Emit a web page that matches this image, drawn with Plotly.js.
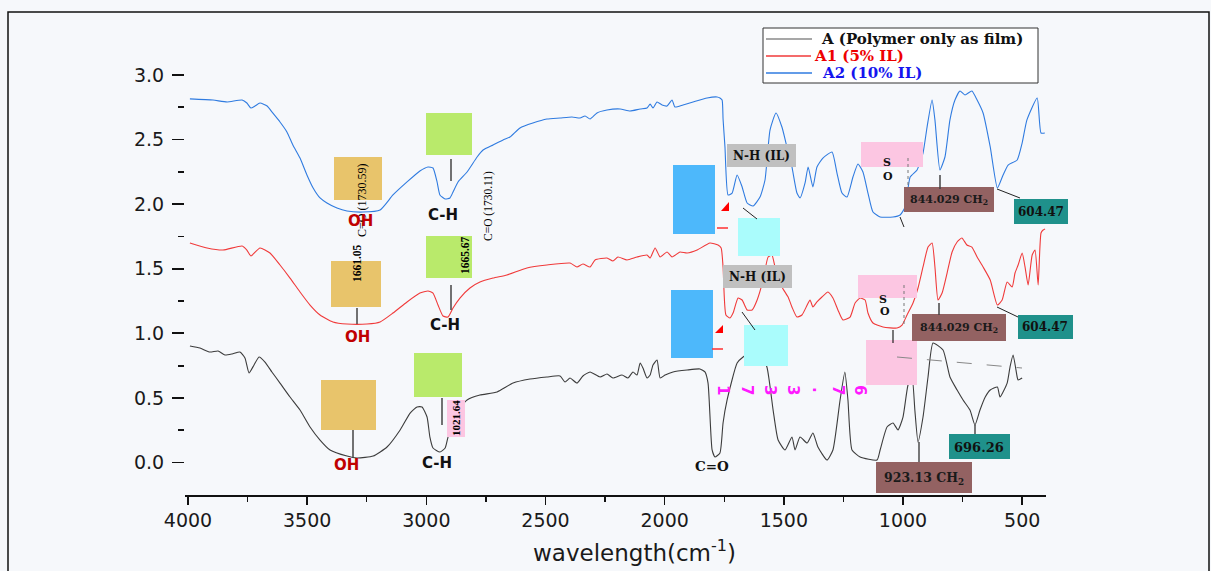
<!DOCTYPE html>
<html><head><meta charset="utf-8">
<script src="https://cdn.plot.ly/plotly-3.0.1.min.js"></script>
<style>html,body{margin:0;padding:0;background:#f6f8fb;}#chart{width:1211px;height:571px;}</style>
</head><body><div id="chart"></div>
<script>
// ---- data (wavenumber cm-1, absorbance) ----
const wnA = [3992,3950,3908,3874,3845,3815,3782,3761,3744,3723,3702,3677,3648,3614,3572,3530,3488,3446,3404,3333,3291,3223,3165,3110,3068,3039,3018,2997,2985,2972,2943,2921,2909,2892,2867,2829,2775,2703,2636,2565,2494,2439,2418,2397,2368,2343,2313,2271,2242,2217,2179,2154,2133,2116,2103,2091,2074,2061,2049,2032,2019,1998,1965,1906,1852,1831,1818,1801,1789,1768,1755,1738,1696,1671,1633,1600,1571,1545,1524,1495,1466,1453,1432,1402,1378,1357,1319,1294,1264,1244,1231,1214,1180,1109,1096,1067,1042,1021,1000,979,962,950,937,916,895,874,832,803,773,748,719,698,677,655,634,604,593,563,551,538,521,517,500];
const absA = [0.902,0.886,0.855,0.863,0.832,0.840,0.855,0.809,0.693,0.755,
0.817,0.778,0.701,0.615,0.507,0.406,0.275,0.174,0.097,0.050,
0.035,0.050,0.120,0.252,0.383,0.430,0.430,0.352,0.197,0.112,
0.081,0.112,0.197,0.290,0.406,0.484,0.522,0.546,0.615,0.646,
0.662,0.670,0.623,0.654,0.615,0.670,0.701,0.662,0.685,0.654,
0.677,0.654,0.701,0.677,0.770,0.731,0.654,0.677,0.755,0.793,
0.654,0.677,0.701,0.716,0.724,0.701,0.615,0.097,0.043,0.074,
0.306,0.484,0.770,0.817,0.855,0.840,0.739,0.406,0.174,0.097,
0.197,0.097,0.197,0.151,0.228,0.120,0.019,0.097,0.484,0.701,
0.484,0.097,0.043,0.019,0.097,0.275,0.306,0.252,0.352,0.600,
0.660,0.400,0.158,0.352,0.662,0.925,0.871,0.662,0.561,0.484,
0.406,0.290,0.406,0.507,0.561,0.584,0.507,0.615,0.739,0.832,
0.662,0.639,0.654];

const wnA1 = [3992,3920,3853,3773,3753,3736,3698,3656,3614,3572,3530,3488,3446,3392,3333,3249,3194,3140,3081,3027,2993,2972,2951,2930,2909,2888,2859,2817,2775,2720,2662,2578,2494,2397,2368,2343,2313,2292,2242,2217,2196,2158,2116,2074,2061,2040,2019,1990,1969,1936,1906,1864,1810,1776,1763,1755,1743,1726,1713,1692,1675,1654,1633,1612,1587,1566,1550,1537,1508,1482,1466,1445,1424,1402,1390,1378,1361,1340,1315,1294,1273,1252,1222,1201,1180,1159,1147,1126,1084,1025,1004,983,958,937,916,895,878,866,853,836,815,794,773,753,732,711,689,664,634,604,584,563,542,530,517,500,488,475,458,446,433,421,412,404];
const absA1 = [1.699,1.661,1.645,1.676,1.645,1.599,1.661,1.622,1.529,1.428,
1.320,1.219,1.142,1.088,1.072,1.072,1.088,1.157,1.243,1.312,
1.328,1.312,1.219,1.134,1.126,1.196,1.273,1.351,1.397,1.428,
1.452,1.506,1.529,1.544,1.514,1.537,1.514,1.568,1.583,1.560,
1.591,1.568,1.591,1.606,1.583,1.661,1.591,1.630,1.591,1.630,
1.622,1.645,1.699,1.684,1.661,1.514,1.142,1.119,1.157,1.273,
1.258,1.181,1.181,1.258,1.413,1.591,1.606,1.514,1.359,1.281,
1.204,1.126,1.142,1.219,1.258,1.204,1.243,1.281,1.320,1.273,
1.181,1.103,1.126,1.235,1.273,1.258,1.157,1.080,1.049,1.041,
1.064,1.142,1.235,1.351,1.514,1.668,1.699,1.514,1.258,1.312,
1.467,1.630,1.707,1.738,1.684,1.668,1.591,1.514,1.413,1.219,
1.258,1.397,1.359,1.467,1.529,1.622,1.514,1.374,1.606,1.645,
1.374,1.777,1.800,1.808];

const wnA2 = [3992,3895,3836,3773,3753,3736,3719,3698,3668,3648,3614,3585,3560,3530,3501,3475,3446,3417,3375,3333,3266,3194,3140,3081,3027,2993,2972,2955,2943,2921,2901,2888,2867,2829,2787,2762,2720,2678,2649,2607,2553,2494,2439,2389,2355,2334,2313,2284,2242,2187,2145,2103,2074,2061,2049,2032,2011,1990,1969,1957,1923,1881,1822,1780,1768,1759,1755,1747,1734,1717,1696,1675,1654,1629,1600,1579,1558,1533,1508,1487,1466,1445,1432,1411,1398,1378,1361,1336,1298,1277,1256,1235,1210,1189,1168,1147,1126,1096,1042,1012,991,970,941,916,899,878,866,845,824,803,782,761,740,711,689,664,634,604,580,559,521,500,480,437,421,405];
const absA2 = [2.815,2.806,2.791,2.806,2.783,2.744,2.760,2.783,2.760,2.714,
2.636,2.559,2.458,2.357,2.226,2.125,2.048,2.009,1.970,1.947,
1.939,1.955,2.071,2.172,2.257,2.288,2.280,2.172,2.071,2.040,
2.048,2.094,2.172,2.249,2.365,2.419,2.458,2.497,2.520,2.590,
2.628,2.659,2.667,2.675,2.667,2.683,2.659,2.706,2.729,2.737,
2.721,2.737,2.744,2.775,2.744,2.791,2.768,2.760,2.806,2.752,
2.768,2.791,2.822,2.830,2.822,2.806,2.659,2.443,2.071,2.086,
2.226,2.133,2.009,1.986,2.055,2.187,2.574,2.706,2.597,2.443,
2.288,2.086,2.048,2.164,2.288,2.133,2.288,2.357,2.404,2.241,
2.086,2.055,2.210,2.311,2.249,2.086,1.939,1.901,1.901,1.916,
1.978,2.210,2.265,2.396,2.597,2.806,2.652,2.265,2.365,2.652,
2.806,2.876,2.845,2.876,2.806,2.706,2.443,2.125,2.226,2.303,
2.342,2.474,2.652,2.822,2.551,2.551];

const seriesNames = ['A (Polymer only as film)', 'A1 (5% IL)', 'A2 (10% IL)'];
const xTickVals = [4000,3500,3000,2500,2000,1500,1000,500];
const yTickVals = [0,0.5,1,1.5,2,2.5,3];
const yMinorVals = [0.25,0.75,1.25,1.75,2.25,2.75];
const magentaLabel = '1733.76';
const xTitle = 'wavelength(cm<sup>-1</sup>)';

// ---- layout helpers (pixel layout -> paper) ----
const L=185,R=1046,T=20,B=495;
const P = px => (px-L)/(R-L);
const Q = py => (B-py)/(B-T);
const shapes=[], ann=[];
function rect(x0,y0,x1,y1,fill,line){shapes.push({type:'rect',xref:'paper',yref:'paper',x0:P(x0),x1:P(x1),y0:Q(y1),y1:Q(y0),fillcolor:fill,line:line||{width:0},layer:'above'});}
function seg(x0,y0,x1,y1,color,width,dash){shapes.push({type:'line',xref:'paper',yref:'paper',x0:P(x0),y0:Q(y0),x1:P(x1),y1:Q(y1),line:{color:color,width:width||1,dash:dash||'solid'},layer:'above'});}
function tri(pts,fill){shapes.push({type:'path',xref:'paper',yref:'paper',path:'M'+pts.map(p=>P(p[0])+','+Q(p[1])).join(' L')+' Z',fillcolor:fill,line:{width:0},layer:'above'});}
function txt(px,py,text,family,size,color,angle,xanchor){ann.push({xref:'paper',yref:'paper',x:P(px),y:Q(py),text:text,showarrow:false,xanchor:xanchor||'center',yanchor:'middle',textangle:angle||0,font:{family:family,size:size,color:color}});}

const SANS='DejaVu Sans', SERIFW='DejaVu Serif', SERIF='Liberation Serif';
const TAN='#e8c46b', GREEN='#b9ea6b', BLUEBOX='#4db8fb', CYAN='#aafcfc', GRAYB='#c0c0c0', PINK='#fcc6e2', BROWN='#936262', TEAL='#1f918b';
const cBlack='#3c3c3c', cRed='#f03a3a', cBlue='#2f7be0';

// legend
rect(763,28,1038,83,'#ffffff',{color:'#333',width:1});
seg(766,39,812,39,'#8a8a8a',1.3); seg(766,56,811,56,cRed,1.3); seg(766,73,812,73,cBlue,1.3);
txt(819,39,'<b>'+seriesNames[0]+'</b>',SERIFW,15,'#111',0,'left');
txt(812,56,'<b>'+seriesNames[1]+'</b>',SERIFW,15,'#ee0000',0,'left');
txt(820,73,'<b>'+seriesNames[2]+'</b>',SERIFW,15,'#1515ee',0,'left');

// A2 (blue) labels
rect(334,157,382,200,TAN); rect(426,113,472,155,GREEN); seg(451,159,451,181,'#444',1.5);
txt(362,201,'C=O (1730.59)',SERIF,12,'#000',-90);
txt(360,221,'<b>OH</b>',SANS,15,'#c00000');
txt(443,215,'<b>C-H</b>',SANS,15,'#111');
txt(488,206,'C=O (1730.11)',SERIF,11.5,'#000',-90);

// A1 (red) labels
rect(331,261,381,307,TAN); seg(357,308,357,324,'#444',1.5);
txt(357,263,'<b>1661.05</b>',SERIF,11.5,'#000',-90);
txt(357,337,'<b>OH</b>',SANS,15,'#c00000');
rect(426,236,472,278,GREEN); seg(451,285,451,310,'#444',1.5);
txt(465,255,'<b>1665.67</b>',SERIF,11.5,'#000',-90);
txt(445,325,'<b>C-H</b>',SANS,15,'#111');

// A (black) labels
rect(321,380,376,430,TAN); seg(353,430,353,458,'#444',1.5);
txt(346,465,'<b>OH</b>',SANS,15,'#c00000');
rect(414,353,462,397,GREEN); seg(442,398,442,425,'#444',1.5);
txt(437,463,'<b>C-H</b>',SANS,15,'#111');
rect(447,400,465,437,PINK);
txt(456,418,'<b>1021.64</b>',SERIF,11,'#000',-90);
txt(712,466,'<b>C=O</b>',SERIFW,13.5,'#111');
const magX=[723,747,770,793,818,838,860];
magentaLabel.split('').forEach((ch,i)=>txt(magX[i],390,'<b>'+ch+'</b>',SANS,15,'#ff1aff',90));

// right-hand labels
rect(673,165,715,234,BLUEBOX); rect(671,290,713,358,BLUEBOX);
tri([[729,202],[729,211],[721,211]],'#ff0000'); tri([[723,325],[723,333],[715,333]],'#ff0000');
seg(717,228,728,228,'#ff3030',1.5); seg(712,349,723,349,'#ff3030',1.5);
rect(727,144,796,167,GRAYB); txt(761,156,'<b>N-H (IL)</b>',SERIFW,12,'#111');
rect(723,265,792,288,GRAYB); txt(757,277,'<b>N-H (IL)</b>',SERIFW,12,'#111');
rect(738,218,780,256,CYAN); rect(744,325,788,366,CYAN);
seg(743,208,757,219,'#222',1); seg(742,312,755,330,'#222',1);
rect(861,142,923,167,PINK); txt(887,162,'<b>S</b>',SERIFW,11,'#111'); txt(888,176,'<b>O</b>',SERIFW,11,'#111');
rect(858,275,917,298,PINK); txt(883,299,'<b>S</b>',SERIFW,11,'#111'); txt(885,311,'<b>O</b>',SERIFW,11,'#111');
rect(866,340,917,385,PINK);
seg(908,158,908,192,'#777',1,'dot'); seg(904,285,904,325,'#777',1,'dot');
seg(900,217,904,227,'#222',1); seg(893,330,893,343,'#222',1.2);
rect(904,187,994,212,BROWN); txt(949,200,'<b>844.029 CH<sub>2</sub></b>',SERIFW,11,'#1a1a1a');
rect(912,314,1006,341,BROWN); txt(959,328,'<b>844.029 CH<sub>2</sub></b>',SERIFW,11,'#1a1a1a');
rect(876,462,972,493,BROWN); txt(924,478,'<b>923.13 CH<sub>2</sub></b>',SERIFW,12.5,'#1a1a1a');
seg(940,175,940,189,'#444',1.5); seg(939,303,939,315,'#444',1.5); seg(919,442,919,462,'#222',1.2);
rect(1014,199,1068,224,TEAL); txt(1041,212,'<b>604.47</b>',SERIFW,12,'#111');
rect(1018,315,1073,339,TEAL); txt(1045,327,'<b>604.47</b>',SERIFW,12,'#111');
rect(949,434,1010,459,TEAL); txt(979,447,'<b>696.26</b>',SERIFW,13,'#111');
seg(997,189,1020,198,'#222',1); seg(997,307,1018,317,'#222',1); seg(975,425,975,434,'#222',1.2);
seg(897,357,1022,368,'#888',1,'longdash');

// x-axis title (placed off-centre as in the reference)
txt(634,551,xTitle,SANS,23,'#1a1a1a');

// outer frame
shapes.push({type:'rect',xref:'paper',yref:'paper',x0:P(8),x1:P(1209),y0:Q(580),y1:Q(12),line:{color:'#111',width:1.5},fillcolor:'rgba(0,0,0,0)',layer:'below'});

const mk=(x,y,c,n)=>({x:x,y:y,type:'scatter',mode:'lines',name:n,line:{color:c,width:1.1,shape:'spline',smoothing:0.5},hoverinfo:'skip'});
const traces=[mk(wnA,absA,cBlack,seriesNames[0]),mk(wnA1,absA1,cRed,seriesNames[1]),mk(wnA2,absA2,cBlue,seriesNames[2])];

const layout={
  width:1211,height:571,
  margin:{l:L,r:1211-R,t:T,b:571-B,pad:0},
  paper_bgcolor:'#f6f8fb',plot_bgcolor:'rgba(0,0,0,0)',
  showlegend:false,
  xaxis:{range:[4000+(188-L)*4.196,400],autorange:false,showgrid:false,zeroline:false,
    showline:true,linecolor:'#111',linewidth:1.5,ticks:'outside',ticklen:8,tickwidth:1.5,tickcolor:'#111',
    tickmode:'array',tickvals:xTickVals,ticktext:xTickVals.map(String),
    minor:{dtick:250,tick0:0,ticks:'outside',ticklen:5,tickwidth:1.2,tickcolor:'#111',showgrid:false},
    tickfont:{family:SANS,size:19,color:'#1a1a1a'},
    title:{text:''},automargin:false},
  yaxis:{range:[(462.5-B)/129.17,(462.5-T)/129.17],autorange:false,showgrid:false,zeroline:false,showline:false,
    ticks:'outside',ticklen:12,tickwidth:1.8,tickcolor:'#111',tickmode:'array',tickvals:yTickVals,ticktext:yTickVals.map(v=>v.toFixed(1)),
    minor:{tickmode:'array',tickvals:yMinorVals,ticks:'outside',ticklen:6,tickwidth:1.8,tickcolor:'#111',showgrid:false},
    tickfont:{family:SANS,size:19,color:'#1a1a1a'},ticklabelstandoff:4,automargin:false},
  shapes:shapes,annotations:ann
};
Plotly.newPlot('chart',traces,layout,{displayModeBar:false,staticPlot:true});
</script></body></html>
